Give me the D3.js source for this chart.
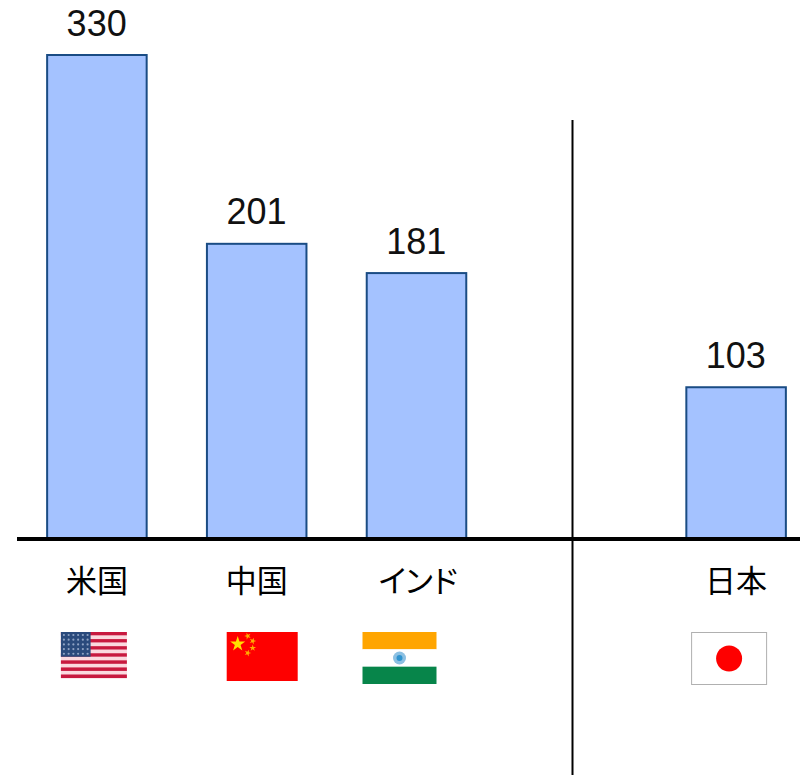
<!DOCTYPE html>
<html>
<head>
<meta charset="utf-8">
<script src="https://cdn.jsdelivr.net/npm/d3@7/dist/d3.min.js"></script>
<style>
html, body { margin: 0; padding: 0; background: #fff; overflow: hidden; }
svg { display: block; }
</style>
</head>
<body>
<svg id="chart" width="800" height="775"></svg>
<script>
// An empty slot separates the first three countries from Japan.
const slots = ["米国", "中国", "インド", "", "日本"];
const countries = ["米国", "中国", "インド", "日本"];
const values = [330, 201, 181, 103];
const flagCodes = ["us", "cn", "in", "jp"];

const svg = d3.select("#chart");
const baseline = 538;

const x = d3.scaleBand().domain(slots).range([17, 816]).paddingInner(0.374).paddingOuter(0.187);
const y = d3.scaleLinear().domain([0, 330]).range([baseline, 55]);

// Bars
svg.selectAll("rect.bar").data(countries).join("rect")
  .attr("class", "bar")
  .attr("x", d => x(d) + 0.25)
  .attr("width", x.bandwidth() - 0.5)
  .attr("y", (d, i) => y(values[i]))
  .attr("height", (d, i) => baseline - y(values[i]))
  .attr("fill", "#a4c2ff")
  .attr("stroke", "#1a4c84")
  .attr("stroke-width", 2);

// Value labels
svg.selectAll("text.value").data(values).join("text")
  .attr("class", "value")
  .attr("x", (d, i) => x(countries[i]) + x.bandwidth() / 2 - 0.25)
  .attr("y", d => y(d) - 19.5)
  .attr("text-anchor", "middle")
  .attr("font-family", "'Liberation Sans', Arial, sans-serif")
  .attr("font-size", 36)
  .attr("fill", "#111")
  .text(d => d);

// Category axis drawn by d3, restyled as a heavy baseline with text only
const axis = svg.append("g")
  .attr("transform", `translate(0,${baseline})`)
  .call(d3.axisBottom(x).tickSize(0).tickPadding(32));
axis.select(".domain").remove();
axis.selectAll(".tick text")
  .attr("font-family", "'Noto Sans CJK JP', sans-serif")
  .attr("font-size", 31)
  .attr("font-weight", 400)
  .attr("fill", "#000")
  .attr("letter-spacing", d => d === "インド" ? -5 : 0);

svg.append("line")
  .attr("x1", 17).attr("x2", 800)
  .attr("y1", baseline + 1).attr("y2", baseline + 1)
  .attr("stroke", "#000").attr("stroke-width", 4);

// Divider between the two groups
svg.append("line")
  .attr("x1", 572.5).attr("x2", 572.5)
  .attr("y1", 120).attr("y2", 775)
  .attr("stroke", "#000").attr("stroke-width", 2);

// Flags: each drawn inside its own group with local coordinates
const flagBoxes = {
  us: { w: 66, h: 46, dx: -3 },
  cn: { w: 71, h: 49, dx: 5.5 },
  in: { w: 74, h: 52, dx: -17 },
  jp: { w: 76, h: 53, dx: -7 }
};
const flagTop = 632;

const flags = svg.selectAll("g.flag").data(flagCodes).join("g")
  .attr("class", "flag")
  .attr("transform", (d, i) => {
    const b = flagBoxes[d];
    const cx = x(countries[i]) + x.bandwidth() / 2 + b.dx;
    return `translate(${cx - b.w / 2},${flagTop})`;
  });

flags.each(function (code) {
  const g = d3.select(this);
  const { w, h } = flagBoxes[code];
  if (code === "us") {
    const stripe = d3.scaleBand().domain(d3.range(13)).range([0, h]);
    g.selectAll("rect.stripe").data(d3.range(13)).join("rect")
      .attr("class", "stripe")
      .attr("x", 0).attr("width", w)
      .attr("y", d => stripe(d)).attr("height", stripe.bandwidth() + 0.1)
      .attr("fill", d => d % 2 ? "#fbd9df" : "#c8193f");
    const cw = w * 0.45, ch = h * 7 / 13;
    g.append("rect").attr("width", cw).attr("height", ch).attr("fill", "#2a4a7c");
    const sx = d3.scalePoint().domain(d3.range(6)).range([3, cw - 3]);
    const sy = d3.scalePoint().domain(d3.range(5)).range([3, ch - 3]);
    d3.range(5).forEach(r => d3.range(6).forEach(c => {
      g.append("circle").attr("cx", sx(c)).attr("cy", sy(r)).attr("r", 1.1).attr("fill", "#8fa3c4");
    }));
  } else if (code === "cn") {
    g.append("rect").attr("width", w).attr("height", h).attr("fill", "#fe0000");
    const star = d3.symbol().type(d3.symbolStar);
    g.append("path").attr("d", star.size(70)())
      .attr("transform", "translate(11,12)").attr("fill", "#ffe000");
    [[21, 4, -20], [26, 9, 20], [26, 16, 0], [21, 21, 20]].forEach(p => {
      g.append("path").attr("d", star.size(14)())
        .attr("transform", `translate(${p[0]},${p[1]}) rotate(${p[2]})`)
        .attr("fill", "#ffb000");
    });
  } else if (code === "in") {
    g.append("rect").attr("width", w).attr("height", h / 3).attr("fill", "#ffa500");
    g.append("rect").attr("y", h / 3).attr("width", w).attr("height", h / 3).attr("fill", "#fff");
    g.append("rect").attr("y", h * 2 / 3).attr("width", w).attr("height", h / 3).attr("fill", "#07854a");
    g.append("circle").attr("cx", w / 2).attr("cy", h / 2).attr("r", 6.5).attr("fill", "#8cc0e2");
    g.append("circle").attr("cx", w / 2).attr("cy", h / 2).attr("r", 3).attr("fill", "#2f93cf");
  } else {
    g.append("rect").attr("x", 0.5).attr("y", 0.5).attr("width", w - 1).attr("height", h - 1)
      .attr("fill", "#fff").attr("stroke", "#b0b0b0").attr("stroke-width", 1);
    g.append("circle").attr("cx", w / 2).attr("cy", h / 2).attr("r", 13).attr("fill", "#fe0000");
  }
});
</script>
</body>
</html>
